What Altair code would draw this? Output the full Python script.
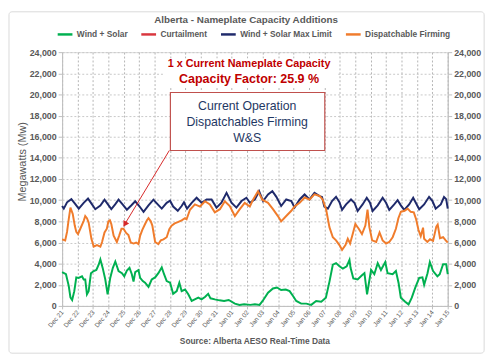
import altair as alt
import pandas as pd

# ---------------- data ----------------
title_text = "Alberta - Nameplate Capacity Additions"
source_text = "Source: Alberta AESO Real-Time Data"
y_title = "Megawatts (Mw)"
day_labels = ["Dec 21", "Dec 22", "Dec 23", "Dec 24", "Dec 25", "Dec 26", "Dec 27",
              "Dec 28", "Dec 29", "Dec 30", "Dec 31", "Jan 01", "Jan 02", "Jan 03",
              "Jan 04", "Jan 05", "Jan 06", "Jan 07", "Jan 08", "Jan 09", "Jan 10",
              "Jan 11", "Jan 12", "Jan 13", "Jan 14", "Jan 15"]
y_ticks = [0, 2000, 4000, 6000, 8000, 10000, 12000, 14000, 16000, 18000, 20000, 22000, 24000]

series_names = ["Wind + Solar", "Curtailment", "Wind + Solar Max Limit", "Dispatchable Firming"]
series_colors = ["#00b050", "#d9363e", "#1f2a6b", "#f07c2c"]

# Wind + Solar (days since Dec 21, MW)
ws_day = [0, 0.25, 0.43, 0.54, 0.65, 0.79, 0.92, 1.07, 1.29, 1.4, 1.5, 1.61, 1.72, 1.87,
          2.05, 2.22, 2.37, 2.48, 2.63, 2.8, 2.95, 3.12, 3.29, 3.45, 3.66, 3.88, 4.03,
          4.2, 4.37, 4.52, 4.63, 4.74, 4.95, 5.06, 5.23, 5.38, 5.6, 5.81, 6.03, 6.24,
          6.46, 6.61, 6.78, 7.0, 7.2, 7.43, 7.6, 7.75, 7.97, 8.18, 8.4, 8.6, 8.83, 9.04,
          9.26, 9.47, 9.62, 9.9, 10.2, 10.5, 10.8, 11.2, 11.5, 11.8, 12.2, 12.5, 12.8,
          13.0, 13.35, 13.67, 13.93, 14.2, 14.5, 14.75, 14.97, 15.18, 15.5, 15.83, 16.15,
          16.47, 16.8, 17.1, 17.34, 17.55, 17.76, 17.98, 18.2, 18.45, 18.63, 18.7, 18.88,
          19.16, 19.44, 19.6, 19.77, 20.03, 20.24, 20.46, 20.67, 20.95, 21.1, 21.43,
          21.64, 21.81, 21.96, 22.24, 22.46, 22.67, 22.89, 23.15, 23.36, 23.47, 23.69,
          23.84, 24.05, 24.33, 24.48, 24.7, 24.9, 25.0]
ws_mw = [3200, 3000, 1900, 800, 560, 1400, 2700, 2650, 2800, 2500, 2500, 1100, 1400, 3100,
         3300, 3400, 3900, 4400, 3600, 2500, 1100, 2650, 3600, 4200, 3300, 3100, 2800,
         3350, 3600, 3000, 2300, 3200, 3400, 2650, 2350, 2200, 1800, 2500, 2700, 3100,
         3650, 3000, 2350, 2200, 1150, 1400, 2200, 1400, 1550, 1100, 470, 620, 780, 620,
         850, 1150, 720, 620, 530, 470, 560, 220, 100, 150, 100, 150, 100,
         470, 1250, 1650, 1750, 1500, 1550, 1400, 940, 470, 220, 220, 100,
         470, 400, 780, 2350, 3900, 4050, 3750, 3530, 3750, 4350, 3600, 2600,
         2500, 2900, 3100, 1100, 3400, 3000, 4050, 3400, 4150, 3100, 3000,
         3300, 2200, 780, 400, 150, 780, 1700, 2650, 2700, 2000, 3100,
         4150, 3300, 2800, 3000, 3950, 3950, 3000]

# Wind + Solar Max Limit
max_day = [0, 0.11, 0.32, 0.6, 0.82, 1.08, 1.4, 1.68, 1.94, 2.15, 2.48, 2.75, 2.97, 3.19,
           3.44, 3.66, 3.92, 4.2, 4.48, 4.74, 5.0, 5.28, 5.6, 5.92, 6.2, 6.46, 6.78, 7.0,
           7.2, 7.5, 7.75, 7.9, 8.1, 8.4, 8.72, 9.04, 9.37, 9.69, 10.01, 10.33, 10.66,
           10.98, 11.3, 11.63, 11.95, 12.17, 12.49, 12.77, 13.03, 13.35, 13.63, 13.89,
           14.2, 14.53, 14.86, 15.07, 15.4, 15.72, 16.04, 16.36, 16.69, 16.85, 17.0,
           17.23, 17.5, 17.76, 17.98, 18.15, 18.41, 18.73, 18.95, 19.16, 19.48, 19.75,
           19.96, 20.13, 20.46, 20.78, 21.0, 21.21, 21.53, 21.75, 21.96, 22.18, 22.5,
           22.76, 22.93, 23.15, 23.47, 23.79, 24.01, 24.22, 24.55, 24.76, 24.9, 25.0]
max_mw = [9450, 9200, 9800, 10100, 9700, 9200, 9750, 10150, 9600, 9150, 9500, 10050, 9600, 9150,
          9600, 10050, 9600, 9100, 9500, 9900, 9450, 8900, 9500, 10050, 9600, 9200, 9750, 9950,
          9400, 9000, 9450, 9800, 9200, 9750, 10230, 9760, 10070, 10070, 9300, 9760, 10690,
          9760, 9300, 9920, 10230, 9760, 10070, 10850, 9920, 10540, 10850, 10320,
          9450, 10070, 9920, 9300, 10070, 10540, 10070, 10690, 10380, 10300, 9390,
          9200, 9920, 10320, 9820, 9080, 9600, 10070, 9760, 8980, 9600, 10230,
          9760, 8980, 9510, 10230, 9760, 9080, 9600, 10000, 9510, 9080, 9600,
          10230, 9760, 9140, 9600, 10320, 9920, 9200, 9600, 10300, 10100, 9200]

# Dispatchable Firming
disp_day = [0, 0.2, 0.32, 0.43, 0.54, 0.69, 0.82, 0.92, 1.03, 1.18, 1.4, 1.5, 1.61, 1.72,
            1.9, 2.05, 2.26, 2.48, 2.59, 2.75, 2.9, 3.0, 3.1, 3.19, 3.34, 3.55, 3.7, 3.85,
            3.98, 4.15, 4.3, 4.45, 4.63, 4.8, 4.95, 5.06, 5.2, 5.38, 5.5, 5.6, 5.75, 5.85,
            6.03, 6.24, 6.4, 6.57, 6.78, 6.95, 7.1, 7.3, 7.54, 7.75, 7.97, 8.07, 8.29,
            8.61, 8.94, 9.26, 9.58, 9.9, 10.23, 10.55, 10.87, 11.2, 11.52, 11.84, 12.17,
            12.38, 12.7, 12.98, 13.35, 13.67, 13.99, 14.2, 14.53, 14.86, 15.07, 15.4,
            15.72, 16.04, 16.36, 16.69, 16.9, 17.12, 17.33, 17.55, 17.76, 17.98, 18.15,
            18.37, 18.52, 18.67, 18.84, 19.01, 19.23, 19.44, 19.66, 19.8, 19.92, 20.1,
            20.36, 20.58, 20.78, 21.0, 21.21, 21.43, 21.64, 21.8, 21.96, 22.2, 22.4,
            22.6, 22.8, 22.95, 23.1, 23.25, 23.4, 23.47, 23.68, 23.85, 24.05, 24.26,
            24.35, 24.5, 24.7, 24.87, 25.0]
disp_mw = [6300, 6200, 7000, 8200, 9300, 8700, 7600, 7000, 6800, 7300, 8050, 8500, 8300, 7900,
           6350, 5600, 5750, 5600, 6050, 6950, 7300, 8000, 8100, 7750, 6650, 6050, 6650, 7300,
           7300, 6900, 6700, 6000, 5900, 6000, 5850, 6650, 7200, 7750, 8100, 8300, 8000, 7600,
           6050, 5850, 6200, 6300, 6500, 7250, 7600, 7800, 7950, 8100, 8300, 8200, 9100,
           9600, 9400, 9900, 9600, 8850, 9150, 9900, 9450, 8500, 9150, 9750, 9400,
           10050, 10850, 10050, 9750, 9150, 8500, 8000, 8500, 9000, 9400, 9750,
           10250, 10050, 10550, 10400, 10050, 9100, 7450, 6500, 6200, 5750, 5300,
           5750, 6350, 5900, 6800, 7750, 7300, 6800, 7600, 9100, 7450, 6200,
           6050, 6950, 6200, 5900, 6050, 6500, 7300, 8300, 8900, 9000, 9200,
           8900, 8850, 8200, 7200, 6600, 7400, 6350, 6050, 6300, 6150, 7500,
           7700, 6400, 6500, 6200, 6000]

# Curtailment: no curtailment values shown in the reference
curt_day = []
curt_mw = []

note_lines = ["1 x Current Nameplate Capacity", "Capacity Factor: 25.9 %"]
box_lines = ["Current Operation", "Dispatchables Firming", "W&S"]

# ---------------- tables ----------------
frames = []
for name, d, v in [(series_names[0], ws_day, ws_mw),
                   (series_names[1], curt_day, curt_mw),
                   (series_names[2], max_day, max_mw),
                   (series_names[3], disp_day, disp_mw)]:
    if len(d):
        frames.append(pd.DataFrame({"day": d, "mw": v, "series": name}))
df = pd.concat(frames, ignore_index=True)

FONT = "Liberation Sans"
GRAY = "#595959"
RED_TXT = "#c00000"
NAVY_TXT = "#1f3864"
GRID_Y = "#c8c8c8"
GRID_X = "#b4b4b4"

xs = alt.Scale(domain=[0, 25], nice=False, zero=False)
ys = alt.Scale(domain=[0, 24000], nice=False)

label_expr = "[" + ",".join("'%s'" % s for s in day_labels) + "][datum.value]"

x_axis = alt.Axis(values=list(range(len(day_labels))), labelExpr=label_expr, labelAngle=-50,
                  labelFontSize=6.5, labelColor=GRAY, labelFont=FONT, labelPadding=2,
                  labelOverlap=False, labelBound=False,
                  grid=True, gridDash=[2, 2], gridColor=GRID_X, domainColor="#bfbfbf",
                  tickColor="#bfbfbf", tickSize=3, title=None)
y_left = alt.Axis(values=y_ticks, format=",d", title=y_title, labelFont=FONT,
                  labelFontWeight="bold", labelFontSize=9, labelColor=GRAY, labelPadding=2,
                  grid=True, gridDash=[2, 2], gridColor=GRID_Y, domainColor="#bfbfbf",
                  tickColor="#bfbfbf", tickSize=4, orient="left",
                  titleFont=FONT, titleFontSize=11, titleFontWeight="normal", titleColor=GRAY,
                  titleAngle=-90, titleX=-40, titleY=111, titleAlign="center",
                  titleBaseline="middle")
y_right = alt.Axis(values=y_ticks, format=",d", title=None, labelFont=FONT,
                   labelFontWeight="bold", labelFontSize=9, labelColor=GRAY, labelPadding=2,
                   grid=False, domainColor="#bfbfbf", tickColor="#bfbfbf", tickSize=4,
                   orient="right")

legend = alt.Legend(orient="none", legendX=-6, legendY=-27, direction="horizontal", title=None,
                    labelFont=FONT, labelFontSize=8.5, labelFontWeight="bold", labelColor=GRAY,
                    symbolType="stroke", symbolStrokeWidth=2.5, symbolSize=225,
                    columnPadding=8, labelOffset=3, padding=0)

lines = alt.Chart(df).mark_line(strokeWidth=2).encode(
    x=alt.X("day:Q", scale=xs, axis=x_axis),
    y=alt.Y("mw:Q", scale=ys, axis=y_left),
    color=alt.Color("series:N", scale=alt.Scale(domain=series_names, range=series_colors),
                    legend=legend),
)

right_axis = alt.Chart(df).mark_line(opacity=0).encode(
    x=alt.X("day:Q", scale=xs, axis=None),
    y=alt.Y("mw:Q", scale=ys, axis=y_right),
    detail="series:N",
)

# annotation geometry (in data units)
note_bg = pd.DataFrame({"x": [6.6], "x2": [17.9], "y": [20700], "y2": [23400]})
box_df = pd.DataFrame({"x": [7.02], "x2": [17.03], "y": [14700], "y2": [20185]})
arrow_df = pd.DataFrame({"x": [6.95], "x2": [4.02], "y": [14700], "y2": [7630]})
head_df = pd.DataFrame({"x": [4.1], "y": [7800]})
note_df = pd.DataFrame({"x": [12.12, 12.12], "y": [22880, 21490], "t": note_lines,
                        "k": ["a", "b"]})
box_txt = pd.DataFrame({"x": [12.0, 12.0, 12.0], "y": [18880, 17400, 15900], "t": box_lines})


def rect_layer(data, **mk):
    return alt.Chart(data).mark_rect(**mk).encode(
        x=alt.X("x:Q", scale=xs, axis=None), x2="x2:Q",
        y=alt.Y("y:Q", scale=ys, axis=None), y2="y2:Q")


bg = rect_layer(note_bg, fill="white")
box = rect_layer(box_df, fill="white", stroke="#c0504d", strokeWidth=1.2)

arrow = alt.Chart(arrow_df).mark_rule(color="#d62828", strokeWidth=1).encode(
    x=alt.X("x:Q", scale=xs, axis=None), x2="x2:Q",
    y=alt.Y("y:Q", scale=ys, axis=None), y2="y2:Q")
head = alt.Chart(head_df).mark_point(shape="triangle", angle=211, filled=True, size=45,
                                     color="#d62828", opacity=1).encode(
    x=alt.X("x:Q", scale=xs, axis=None), y=alt.Y("y:Q", scale=ys, axis=None))

note1 = alt.Chart(note_df[note_df.k == "a"]).mark_text(
    font=FONT, fontSize=11, fontWeight="bold", color=RED_TXT, baseline="middle").encode(
    x=alt.X("x:Q", scale=xs, axis=None), y=alt.Y("y:Q", scale=ys, axis=None), text="t:N")
note2 = alt.Chart(note_df[note_df.k == "b"]).mark_text(
    font=FONT, fontSize=12.7, fontWeight="bold", color=RED_TXT, baseline="middle").encode(
    x=alt.X("x:Q", scale=xs, axis=None), y=alt.Y("y:Q", scale=ys, axis=None), text="t:N")
box_text = alt.Chart(box_txt).mark_text(
    font=FONT, fontSize=12.5, color=NAVY_TXT, baseline="middle").encode(
    x=alt.X("x:Q", scale=xs, axis=None), y=alt.Y("y:Q", scale=ys, axis=None), text="t:N")

one = pd.DataFrame({"t": [title_text]})
title = alt.Chart(one).mark_text(font=FONT, fontSize=10, fontWeight="bold", color=GRAY,
                                 baseline="middle").encode(
    x=alt.value(187), y=alt.value(-33), text="t:N")
src = alt.Chart(pd.DataFrame({"t": [source_text]})).mark_text(
    font=FONT, fontSize=8.5, fontWeight="bold", color=GRAY, baseline="middle").encode(
    x=alt.value(196), y=alt.value(294), text="t:N")
frame = alt.Chart(pd.DataFrame({"k": [0]})).mark_rect(
    fillOpacity=0, stroke="#d9d9d9", strokeWidth=1, cornerRadius=3).encode(
    x=alt.value(-54), x2=alt.value(429), y=alt.value(-41), y2=alt.value(306))

chart = alt.layer(
    bg, box, lines, right_axis, arrow, head, note1, note2, box_text, title, src, frame
).resolve_axis(x="independent", y="independent").properties(
    width=392, height=258,
    autosize=alt.AutoSizeParams(type="none"),
    padding={"left": 55, "top": 42, "right": 45, "bottom": 47},
    background="white",
).configure_view(stroke=None).configure(font=FONT)

chart.save("out.html", embed_options={"renderer": "svg", "actions": False})
